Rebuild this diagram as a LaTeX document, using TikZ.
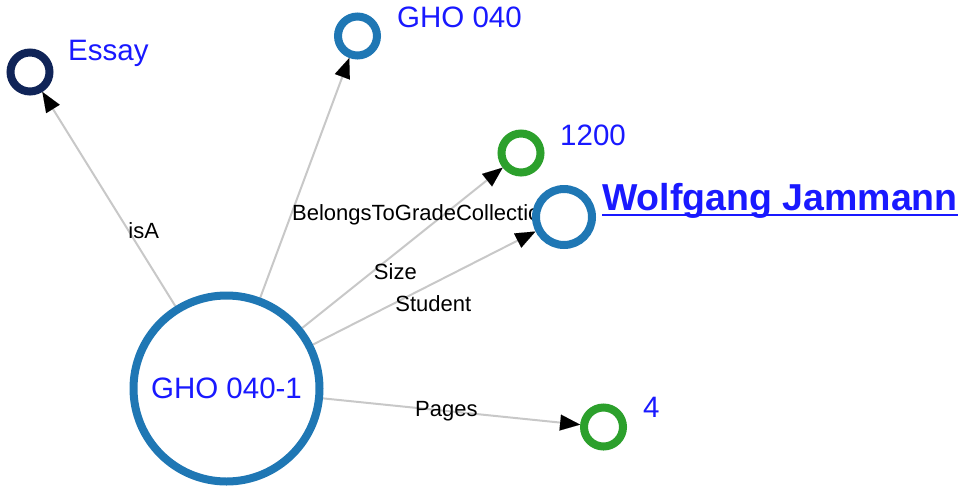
\documentclass[tikz,border=0pt]{standalone}
\usepackage{fontspec}
\setmainfont{Liberation Sans}
\usetikzlibrary{arrows.meta,calc,backgrounds}
\definecolor{nblue}{RGB}{31,119,180}
\definecolor{ngreen}{RGB}{44,160,44}
\definecolor{nnavy}{RGB}{16,36,88}
\definecolor{tblue}{RGB}{25,25,255}
\definecolor{egray}{RGB}{200,200,200}
\tikzset{
  gnode/.style={circle, draw=#1, line width=8pt, fill=white, inner sep=0pt, outer sep=4pt},
  smallnode/.style={minimum size=39pt},
  nlabel/.style={text=tblue, font=\fontsize{29.5}{31}\selectfont, inner sep=0pt, anchor=base west},
  elabel/.style={text=black, font=\fontsize{22}{24}\selectfont, inner sep=0pt, anchor=base west},
  link/.style={draw=egray, line width=2pt, -{Triangle[length=20pt,width=16pt,color=black,line width=0.01pt]}},
}
\begin{document}
\begin{tikzpicture}[x=1pt,y=-1pt]
\useasboundingbox (0,0) rectangle (961,491);

% nodes
\node[gnode=nblue, minimum size=186pt, text=tblue, font=\fontsize{29.5}{31}\selectfont] (main) at (226.5,388.5) {GHO 040-1};
\node[gnode=nnavy, smallnode] (essay) at (30,72) {};
\node[gnode=nblue, smallnode] (gho) at (357.5,36) {};
\node[gnode=ngreen, smallnode] (n1200) at (521,153) {};
\node[gnode=nblue, minimum size=56pt] (wolf) at (564,217) {};
\node[gnode=ngreen, smallnode] (n4) at (603.5,427) {};

% node labels
\node[nlabel] (essayL) at (68,60) {Essay};
\node[nlabel] (ghoL) at (397,27) {GHO 040};
\node[nlabel] (n1200L) at (560,145) {1200};
\node[nlabel] (n4L) at (643,417) {4};
\node[nlabel, font=\fontsize{37.5}{40}\selectfont\bfseries] (wolfL) at (602,210) {Wolfgang Jammann};
\draw[tblue, line width=2.5pt] ([yshift=-5pt]wolfL.base west) -- ([yshift=-5pt]wolfL.base east);

% links and their labels
\begin{scope}[on background layer]
  \draw[link] (main) -- (essay);
  \draw[link] (main) -- (gho);
  \draw[link] (main) -- (n1200);
  \draw[link] (main) -- (wolf);
  \draw[link] (main) -- (n4);
  \node[elabel] (lisa) at ($(main.center)!0.5!(essay.center)+(0,8.5)$) {isA};
  \node[elabel] (lbel) at ($(main.center)!0.5!(gho.center)+(0,8.5)$) {BelongsToGradeCollection};
  \node[elabel] (lsize) at ($(main.center)!0.5!(n1200.center)+(0,8.5)$) {Size};
  \node[elabel] (lstud) at ($(main.center)!0.5!(wolf.center)+(0,8.5)$) {Student};
  \node[elabel] (lpage) at ($(main.center)!0.5!(n4.center)+(0,8.5)$) {Pages};
\end{scope}
\end{tikzpicture}
\end{document}
